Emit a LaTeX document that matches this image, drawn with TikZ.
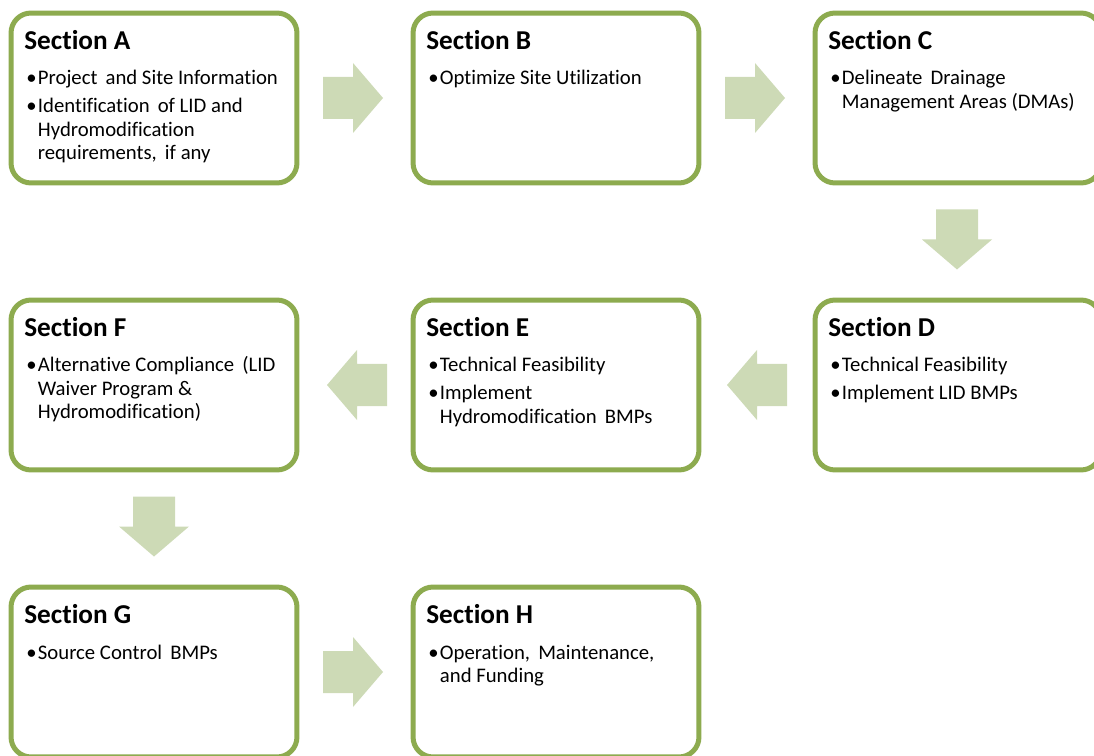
\documentclass[tikz,border=0pt]{standalone}
\usepackage{fontspec}
\setmainfont{Carlito}[Ligatures={NoCommon,NoRare,NoContextual}]
\usepackage{tikz}
\usetikzlibrary{positioning}
\definecolor{secline}{HTML}{8DAB4F}
\definecolor{secarrow}{HTML}{CDDAB6}
\newcommand{\bul}{\makebox[6.6pt][l]{\textbullet}}

\begin{document}
\begin{tikzpicture}[x=0.02cm,y=-0.02cm,
    secbox/.style={draw=secline, line width=0.1cm, rounded corners=0.4cm,
        minimum width=5.72cm, minimum height=3.4cm, fill=white},
    sectitle/.style={anchor=base west, inner sep=0pt, font=\fontsize{15.5}{18}\selectfont\bfseries},
    secbody/.style={anchor=base west, inner sep=0pt, font=\fontsize{11.8}{13.3}\selectfont},
    blockarrow/.pic={\fill[secarrow] (-30,-21) -- (0,-21) -- (0,-35) -- (30,0) -- (0,35) -- (0,21) -- (-30,21) -- cycle;}]
                \useasboundingbox (0,0) rectangle (1094,756);
                \clip (0,0) rectangle (1094,756);
                \node[secbox] (secA) at (154,98) {};
                \node[secbox] (secB) at (556,98) {};
                \node[secbox] (secC) at (958,98) {};
                \node[secbox] (secF) at (154,385) {};
                \node[secbox] (secE) at (556,385) {};
                \node[secbox] (secD) at (958,385) {};
                \node[secbox] (secG) at (154,672) {};
                \node[secbox] (secH) at (556,672) {};
                \node[sectitle] (tA) at (24,49.5) {Section A};
                \node[sectitle] (tB) at (426,49.5) {Section B};
                \node[sectitle] (tC) at (828,49.5) {Section C};
                \node[sectitle] (tF) at (24,336.5) {Section F};
                \node[sectitle] (tE) at (426,336.5) {Section E};
                \node[sectitle] (tD) at (828,336.5) {Section D};
                \node[sectitle] (tG) at (24,623.5) {Section G};
                \node[sectitle] (tH) at (426,623.5) {Section H};
                \node[secbody] (bA) at (26,85) {\begin{tabular}[t]{@{}l@{}l@{}}
                    \bul & Project\, and Site Information\\[2.6pt]
                    \bul & Identification\, of LID and\\
                         & Hydromodification\\
                         & requirements,\, if any
                    \end{tabular}};
                \node[secbody] (bB) at (428,85) {\begin{tabular}[t]{@{}l@{}l@{}}
                    \bul & Optimize Site Utilization
                    \end{tabular}};
                \node[secbody] (bC) at (830,85) {\begin{tabular}[t]{@{}l@{}l@{}}
                    \bul & Delineate\, Drainage\\
                         & Management Areas (DMAs)
                    \end{tabular}};
                \node[secbody] (bF) at (26,372) {\begin{tabular}[t]{@{}l@{}l@{}}
                    \bul & Alternative Compliance\, (LID\\
                         & Waiver Program \&\\
                         & Hydromodification)
                    \end{tabular}};
                \node[secbody] (bE) at (428,372) {\begin{tabular}[t]{@{}l@{}l@{}}
                    \bul & Technical Feasibility\\[2.6pt]
                    \bul & Implement\\
                         & Hydromodification\, BMPs
                    \end{tabular}};
                \node[secbody] (bD) at (830,372) {\begin{tabular}[t]{@{}l@{}l@{}}
                    \bul & Technical Feasibility\\[2.6pt]
                    \bul & Implement LID BMPs
                    \end{tabular}};
                \node[secbody] (bG) at (26,659) {\begin{tabular}[t]{@{}l@{}l@{}}
                    \bul & Source Control\, BMPs
                    \end{tabular}};
                \node[secbody] (bH) at (428,659) {\begin{tabular}[t]{@{}l@{}l@{}}
                    \bul & Operation,\, Maintenance,\\
                         & and Funding
                    \end{tabular}};
                \pic at (353,98) {blockarrow};
                \pic at (755,98) {blockarrow};
                \pic[rotate=-90] at (957,239.5) {blockarrow};
                \pic[rotate=180] at (757,385) {blockarrow};
                \pic[rotate=180] at (357,385) {blockarrow};
                \pic[rotate=-90] at (154,526.5) {blockarrow};
                \pic at (353,672) {blockarrow};
            \end{tikzpicture}
\end{document}
